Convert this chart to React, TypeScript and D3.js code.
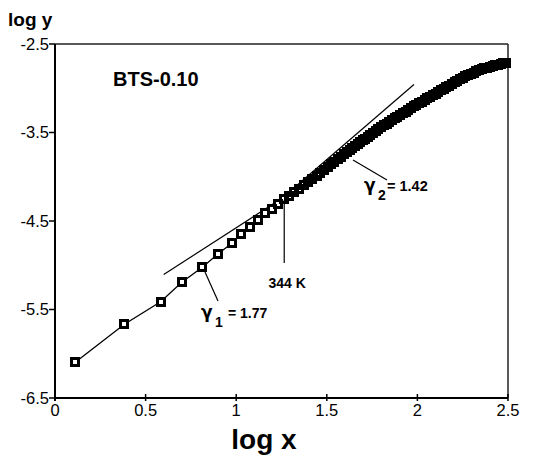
import React from "react";
import * as d3 from "d3";

const W = 546;
const H = 468;

const logX = [
  0.112, 0.383, 0.583, 0.7, 0.813, 0.899, 0.976, 1.028,
  1.075, 1.118, 1.158, 1.195, 1.229, 1.262, 1.292, 1.321, 1.348, 1.374,
  1.398, 1.421, 1.444, 1.465, 1.485, 1.505, 1.524, 1.542, 1.56, 1.577,
  1.594, 1.61, 1.626, 1.641, 1.656, 1.67, 1.684, 1.698, 1.711,
  1.725, 1.74, 1.755, 1.77, 1.785, 1.8, 1.815, 1.83, 1.845, 1.86, 1.875,
  1.89, 1.905, 1.92, 1.935, 1.95, 1.965, 1.98, 1.995, 2.01, 2.025, 2.04,
  2.055, 2.07, 2.085, 2.1, 2.115, 2.13, 2.145, 2.16, 2.175, 2.19, 2.205,
  2.22, 2.235, 2.25, 2.265, 2.28, 2.295, 2.31, 2.325, 2.34, 2.355, 2.37,
  2.385, 2.4, 2.415, 2.43, 2.445, 2.46, 2.475, 2.49,
];

// log y values of the measured points
const logY = [
  -6.097, -5.667, -5.412, -5.193, -5.023, -4.873, -4.752, -4.647,
  -4.565, -4.49, -4.412, -4.36, -4.305, -4.255, -4.213, -4.174, -4.137, -4.098,
  -4.06, -4.024, -3.988, -3.954, -3.921, -3.888, -3.857, -3.828, -3.8, -3.773,
  -3.747, -3.722, -3.697, -3.674, -3.651, -3.63, -3.609, -3.588, -3.568,
  -3.547, -3.526, -3.505, -3.484, -3.463, -3.441, -3.42, -3.4, -3.38, -3.36, -3.34,
  -3.32, -3.301, -3.282, -3.263, -3.244, -3.225, -3.206, -3.187, -3.169, -3.151, -3.132,
  -3.114, -3.096, -3.078, -3.06, -3.042, -3.024, -3.006, -2.988, -2.97, -2.952, -2.935,
  -2.917, -2.9, -2.883, -2.866, -2.851, -2.837, -2.823, -2.81, -2.798, -2.787, -2.776,
  -2.766, -2.756, -2.748, -2.74, -2.732, -2.725, -2.718, -2.711,
];

// fitted straight lines (log x, log y end points)
const fit1X = [0.6, 1.254];
const fit1Y = [-5.105, -4.24];
const fit2X = [1.254, 1.981];
const fit2Y = [-4.24, -2.958];

const xTicks = [0, 0.5, 1, 1.5, 2, 2.5];
const xTickLabels = ["0", "0.5", "1", "1.5", "2", "2.5"];
const yTicks = [-2.5, -3.5, -4.5, -5.5, -6.5];
const yTickLabels = ["-2.5", "-3.5", "-4.5", "-5.5", "-6.5"];

const sampleName = "BTS-0.10";
const crossoverLabel = "344 K";
const crossoverX = 1.265;
const gamma1 = "1.77";
const gamma2 = "1.42";

const FONT = "'Liberation Sans', Arial, Helvetica, sans-serif";
const GFONT = "'DejaVu Sans', 'Liberation Sans', sans-serif";

export default function App() {
  const x = d3.scaleLinear().domain([0, 2.5]).range([55, 508]);
  const y = d3.scaleLinear().domain([-6.5, -2.5]).range([398, 44]);

  const pts = logX.map((v, i) => [v, logY[i]] as [number, number]);
  const line = d3
    .line<[number, number]>()
    .x((d) => x(d[0]))
    .y((d) => y(d[1]));

  const ms = 7;
  const crossY = y(-4.262);

  return (
    <svg
      width={W}
      height={H}
      style={{ position: "absolute", left: 0, top: 0, background: "#fff" }}
      fontFamily={FONT}
    >
      <rect x={0} y={0} width={W} height={H} fill="#fff" />

      {/* frame */}
      <line x1={x(0)} x2={x(2.5)} y1={y(-2.5)} y2={y(-2.5)} stroke="#222" strokeWidth={1.5} />
      <line x1={x(2.5)} x2={x(2.5)} y1={y(-2.5)} y2={y(-6.5)} stroke="#222" strokeWidth={1.5} />
      <line x1={x(0)} x2={x(0)} y1={y(-2.5)} y2={y(-6.5) + 3} stroke="#000" strokeWidth={2} />
      <line x1={x(0)} x2={x(2.5)} y1={y(-6.5)} y2={y(-6.5)} stroke="#000" strokeWidth={2} />

      {/* y ticks */}
      {yTicks.map((t, i) => (
        <g key={"yt" + i}>
          <line x1={x(0) - 6} x2={x(0)} y1={y(t)} y2={y(t)} stroke="#000" strokeWidth={1.5} />
          <text
            x={x(0) - 6}
            y={y(t)}
            dy="0.36em"
            textAnchor="end"
            fontSize={16.5}
            fill="#000"
          >
            {yTickLabels[i]}
          </text>
        </g>
      ))}

      {/* x ticks */}
      {xTicks.map((t, i) => (
        <g key={"xt" + i}>
          <line x1={x(t)} x2={x(t)} y1={y(-6.5) - 4} y2={y(-6.5) + 3} stroke="#000" strokeWidth={1.5} />
          <text x={x(t)} y={416} textAnchor="middle" fontSize={16.5} fill="#000">
            {xTickLabels[i]}
          </text>
        </g>
      ))}

      {/* axis titles */}
      <text x={8} y={26} fontSize={19} fontWeight="bold" fill="#000">
        log y
      </text>
      <text x={264} y={449} textAnchor="middle" fontSize={28} fontWeight="bold" fill="#000">
        log x
      </text>

      {/* sample name */}
      <text x={113} y={86} fontSize={20} fontWeight="bold" fill="#000">
        {sampleName}
      </text>

      {/* fitted lines */}
      <line
        x1={x(fit1X[0])}
        y1={y(fit1Y[0])}
        x2={x(fit1X[1])}
        y2={y(fit1Y[1])}
        stroke="#000"
        strokeWidth={1.2}
      />
      <line
        x1={x(fit2X[0])}
        y1={y(fit2Y[0])}
        x2={x(fit2X[1])}
        y2={y(fit2Y[1])}
        stroke="#000"
        strokeWidth={1.2}
      />

      {/* data line */}
      <path d={line(pts) || ""} fill="none" stroke="#000" strokeWidth={1.3} />

      {/* marker fills first, then outlines, so overlapping markers merge */}
      <g shapeRendering="crispEdges">
        {pts.map((p, i) => (
          <rect
            key={"f" + i}
            x={x(p[0]) - ms / 2}
            y={y(p[1]) - ms / 2}
            width={ms}
            height={ms}
            fill="#fff"
            stroke="none"
          />
        ))}
        {pts.map((p, i) => (
          <rect
            key={"m" + i}
            x={x(p[0]) - ms / 2}
            y={y(p[1]) - ms / 2}
            width={ms}
            height={ms}
            fill="none"
            stroke="#000"
            strokeWidth={3}
          />
        ))}
      </g>

      {/* 344 K crossover */}
      <line
        x1={x(crossoverX)}
        x2={x(crossoverX)}
        y1={crossY}
        y2={263}
        stroke="#000"
        strokeWidth={1.2}
      />
      <text x={x(crossoverX) + 3} y={288} textAnchor="middle" fontSize={14} fontWeight="bold" fill="#000">
        {crossoverLabel}
      </text>

      {/* gamma 1 */}
      <line x1={205} y1={272} x2={218} y2={301} stroke="#000" strokeWidth={1.2} />
      <text x={201} y={318} fontSize={17} fontWeight="bold" fontFamily={GFONT} fill="#000">
        γ
      </text>
      <text x={215} y={327} fontSize={14} fontWeight="bold" fill="#000">
        1
      </text>
      <text x={228} y={318} fontSize={14} fontWeight="bold" fill="#000">
        = {gamma1}
      </text>

      {/* gamma 2 */}
      <line x1={353} y1={160} x2={387} y2={180} stroke="#000" strokeWidth={1.2} />
      <text x={364} y={191} fontSize={17} fontWeight="bold" fontFamily={GFONT} fill="#000">
        γ
      </text>
      <text x={378} y={200} fontSize={14} fontWeight="bold" fill="#000">
        2
      </text>
      <text x={387} y={191} fontSize={14.5} fontWeight="bold" fill="#000">
        = {gamma2}
      </text>
    </svg>
  );
}
